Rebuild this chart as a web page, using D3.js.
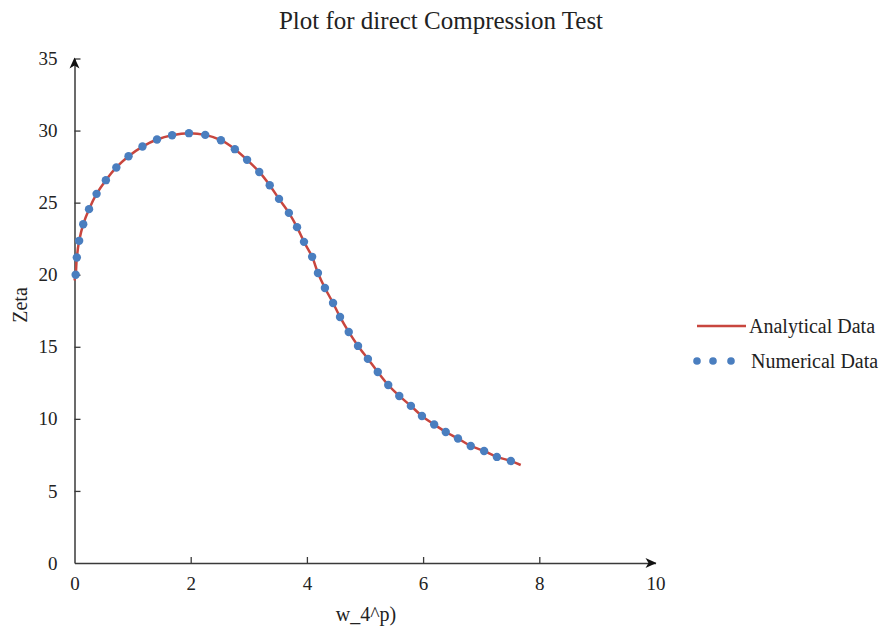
<!DOCTYPE html>
<html>
<head>
<meta charset="utf-8">
<script src="https://cdn.jsdelivr.net/npm/d3@7"></script>
<style>
  body { margin: 0; background: #fff; }
  svg text { font-family: "Liberation Serif", "Times New Roman", serif; fill: #222; }
</style>
</head>
<body>
<div id="app"></div>
<script>
const title = 'Plot for direct Compression Test'
const xLabel = 'w_4^p)'
const yLabel = 'Zeta'
const xTicks = [0, 2, 4, 6, 8, 10]
const yTicks = [0, 5, 10, 15, 20, 25, 30, 35]
const seriesNames = ['Analytical Data', 'Numerical Data']

// numerical points
const numX = [0.02, 0.04, 0.08, 0.15, 0.25, 0.38, 0.54, 0.72, 0.93, 1.17, 1.42, 1.68, 1.97, 2.25,
  2.52, 2.76, 2.97, 3.18, 3.36, 3.52, 3.69, 3.83, 3.95, 4.09, 4.19, 4.31, 4.45, 4.57, 4.72,
  4.88, 5.05, 5.22, 5.40, 5.59, 5.79, 5.98, 6.19, 6.39, 6.60, 6.82, 7.05, 7.27, 7.51]
const numY = [20.0, 21.19, 22.35, 23.5, 24.55, 25.61, 26.56, 27.44, 28.22, 28.89, 29.38, 29.68, 29.82, 29.7,
  29.33, 28.71, 27.97, 27.13, 26.21, 25.26, 24.29, 23.3, 22.28, 21.24, 20.12, 19.08, 18.04, 17.07, 16.03,
  15.06, 14.16, 13.25, 12.35, 11.59, 10.9, 10.2, 9.61, 9.09, 8.64, 8.12, 7.77, 7.36, 7.08]

// analytical curve, a bit longer than the numerical one
const anaX = [0, 0.02, 0.04, 0.08, 0.15, 0.25, 0.38, 0.54, 0.72, 0.93, 1.17, 1.42, 1.68, 1.97, 2.25,
  2.52, 2.76, 2.97, 3.18, 3.36, 3.52, 3.69, 3.83, 3.95, 4.09, 4.19, 4.31, 4.45, 4.57, 4.72,
  4.88, 5.05, 5.22, 5.40, 5.59, 5.79, 5.98, 6.19, 6.39, 6.60, 6.82, 7.05, 7.27, 7.51, 7.68]
const anaY = [19.6, 20.0, 21.19, 22.35, 23.5, 24.55, 25.61, 26.56, 27.44, 28.22, 28.89, 29.38, 29.68, 29.82, 29.7,
  29.33, 28.71, 27.97, 27.13, 26.21, 25.26, 24.29, 23.3, 22.28, 21.24, 20.12, 19.08, 18.04, 17.07, 16.03,
  15.06, 14.16, 13.25, 12.35, 11.59, 10.9, 10.2, 9.61, 9.09, 8.64, 8.12, 7.77, 7.36, 7.08, 6.8]

const W = 884, H = 632
const red = '#c8463e', blue = '#4a7ebf', axisColor = '#3a3a3a'

const svg = d3.select('#app').append('svg').attr('width', W).attr('height', H)

const x = d3.scaleLinear().domain([0, 10]).range([74.5, 655.5])
const y = d3.scaleLinear().domain([0, 35]).range([563, 58.5])

svg.append('text')
  .attr('x', 441).attr('y', 29)
  .attr('text-anchor', 'middle')
  .style('font-size', '25px')
  .text(title)

// axes with inside ticks
const xAxis = svg.append('g').attr('transform', `translate(0,${y(0)})`)
  .call(d3.axisBottom(x).tickValues(xTicks).tickSizeInner(-6).tickSizeOuter(0).tickPadding(14))
const yAxis = svg.append('g').attr('transform', `translate(${x(0)},0)`)
  .call(d3.axisLeft(y).tickValues(yTicks).tickSizeInner(-6).tickSizeOuter(0).tickPadding(17))

for (const g of [xAxis, yAxis]) {
  g.select('.domain').attr('stroke', axisColor).attr('stroke-width', 1.5)
  g.selectAll('.tick line').attr('stroke', axisColor).attr('stroke-width', 1.3)
  g.selectAll('.tick text')
    .style('font-family', '"Liberation Serif", serif')
    .style('font-size', '19px').attr('fill', '#222')
}
xAxis.selectAll('.tick').filter((d) => d === 0 || d === 10).select('line').remove()
yAxis.selectAll('.tick').filter((d) => d === 0).select('line').remove()

// arrow heads
svg.append('path')
  .attr('d', `M${x(10) - 10},${y(0) - 5} L${x(10) + 1},${y(0)} L${x(10) - 10},${y(0) + 5} L${x(10) - 7},${y(0)} Z`)
  .attr('fill', '#111')
svg.append('path')
  .attr('d', `M${x(0) - 5},${y(35) + 10} L${x(0)},${y(35) - 1} L${x(0) + 5},${y(35) + 10} L${x(0)},${y(35) + 7} Z`)
  .attr('fill', '#111')

svg.append('text')
  .attr('x', 366).attr('y', 621)
  .attr('text-anchor', 'middle')
  .style('font-size', '20px')
  .text(xLabel)

svg.append('text')
  .attr('transform', 'translate(27,305) rotate(-90)')
  .attr('text-anchor', 'middle')
  .style('font-size', '20px')
  .text(yLabel)

const ana = anaX.map((v, i) => ({x: v, y: anaY[i]}))
const num = numX.map((v, i) => ({x: v, y: numY[i]}))

const line = d3.line().x((d) => x(d.x)).y((d) => y(d.y)).curve(d3.curveCatmullRom)

svg.append('path')
  .attr('d', line(ana))
  .attr('fill', 'none')
  .attr('stroke', red)
  .attr('stroke-width', 2.5)

svg.append('g').selectAll('circle')
  .data(num)
  .join('circle')
  .attr('cx', (d) => x(d.x))
  .attr('cy', (d) => y(d.y))
  .attr('r', 4.2)
  .attr('fill', blue)

// legend
const legend = svg.append('g')
legend.append('line')
  .attr('x1', 697).attr('x2', 746).attr('y1', 326).attr('y2', 326)
  .attr('stroke', red).attr('stroke-width', 2.5)
legend.selectAll('circle.leg')
  .data([697, 713, 731])
  .join('circle')
  .attr('class', 'leg')
  .attr('cx', (d) => d).attr('cy', 361).attr('r', 3.8)
  .attr('fill', blue)
legend.selectAll('text')
  .data(seriesNames)
  .join('text')
  .attr('x', (d, i) => (i === 0 ? 749 : 751))
  .attr('y', (d, i) => (i === 0 ? 333 : 368))
  .style('font-size', '20px')
  .text((d) => d)
</script>
</body>
</html>
